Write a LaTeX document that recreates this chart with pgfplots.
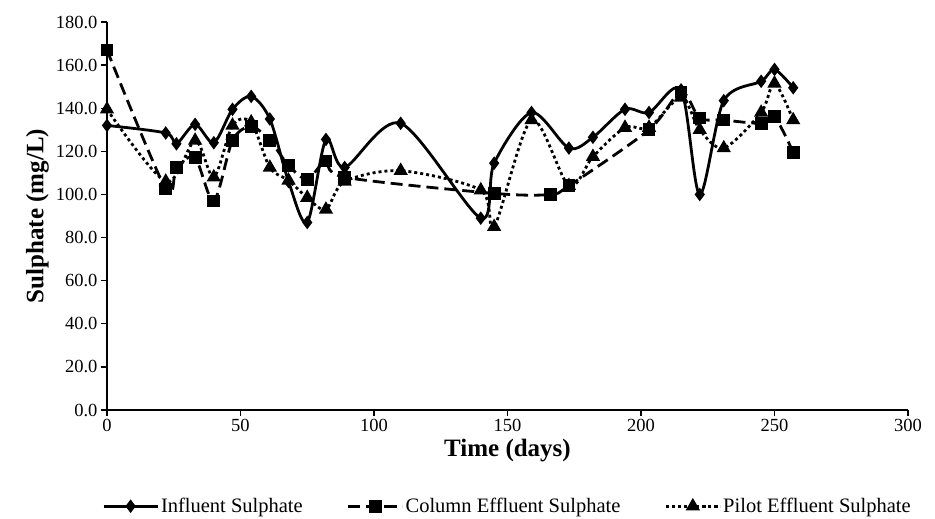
\documentclass[border=0pt]{standalone}
\usepackage{fontspec}
\setmainfont{Liberation Serif}
\usepackage{pgfplots}
\usepackage{pgfplotstable}
\pgfplotsset{compat=1.18}

% Influent sulphate (mg/L)
\pgfplotstableread{
day val
0 132
22 128.5
26 123.5
33 132.5
40 124
47 139.5
54 145.5
61 135
68 106
75 87
82 125.5
89 112.5
110 133
140 89
145 114.5
159 138
173 121.5
182 126.5
194 139.5
203 138
215 148.5
222 100
231 143.5
245 152.5
250 158
257 149.5
}\influent

% Column effluent
\pgfplotstableread{
day val
0 167
22 102.5
26 112.5
33 117
40 97
47 125
54 131.5
61 125
68 113.5
75 107
82 115.5
89 108
145 100.5
166 100
173 104
203 130
215 147.5
222 135.5
231 134.5
245 133
250 136
257 119.5
}\column

% Pilot effluent
\pgfplotstableread{
day val
0 139.5
22 106
33 125
40 108
47 132
54 133.5
61 112.5
68 106.5
75 98.5
82 93
89 106
110 111
140 102
145 85
159 134.5
173 104
182 117.5
194 131
203 131
215 145
222 130
231 121.5
245 138
250 151.5
257 134.5
}\pilot

\begin{document}
\begin{tikzpicture}
\begin{axis}[
    scale only axis,
    width=801pt, height=388pt,
    xmin=0, xmax=300, ymin=0, ymax=180,
    axis x line=bottom, axis y line=left,
    axis line style={-, line width=1.5pt},
    xtick={0,50,...,300}, ytick={0,20,...,180},
    tick align=outside, major tick length=6pt,
    tick style={line width=1.3pt, black},
    /pgf/number format/assume math mode=true,
    yticklabel style={/pgf/number format/.cd, fixed, fixed zerofill, precision=1},
    ticklabel style={font=\fontsize{18.5}{20}\selectfont},
    xlabel={Time (days)}, ylabel={Sulphate (mg/L)},
    label style={font=\fontsize{25}{28}\selectfont\bfseries},
    legend style={at={(0.5,-0.248)}, anchor=center, draw=none,
        font=\fontsize{20.5}{23}\selectfont,
        /tikz/every even column/.append style={column sep=42pt}},
    legend columns=3,
    legend image code/.code={\draw[#1, mark repeat=2, mark phase=2]
        plot coordinates {(0pt,0pt) (27pt,0pt) (54pt,0pt)};},
    every axis plot/.append style={black, line width=2.8pt, smooth, tension=0.5,
        mark options={solid}},
]
\addplot[mark=diamond*, mark size=4.5pt] table[x=day, y=val] {\influent};
\addlegendentry{Influent Sulphate}
\addplot[mark=square*, mark size=5pt, dash pattern=on 12pt off 6pt] table[x=day, y=val] {\column};
\addlegendentry{Column Effluent Sulphate}
\addplot[mark=triangle*, mark size=5.5pt, dash pattern=on 3pt off 3pt] table[x=day, y=val] {\pilot};
\addlegendentry{Pilot Effluent Sulphate}
\end{axis}
\pgfresetboundingbox
\useasboundingbox (current axis.south west) ++(-107pt,-109pt) rectangle ++(935pt,519pt);
\end{tikzpicture}
\end{document}
